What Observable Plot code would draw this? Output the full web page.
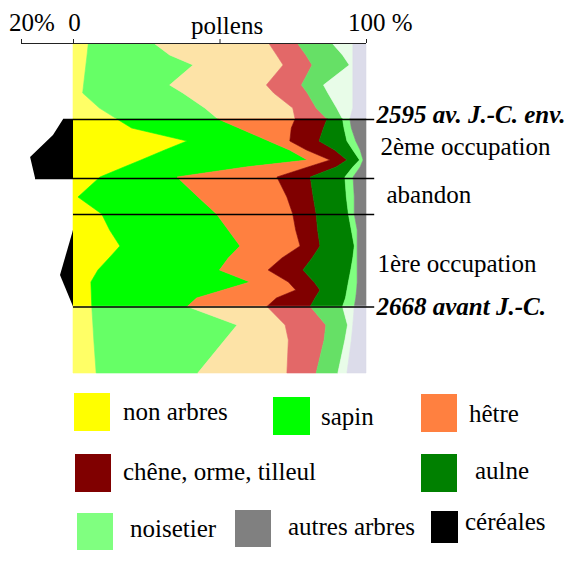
<!DOCTYPE html>
<html>
<head>
<meta charset="utf-8">
<script src="https://cdn.jsdelivr.net/npm/d3@7"></script>
<script src="https://cdn.jsdelivr.net/npm/@observablehq/plot@0.6"></script>
<style>
  body { margin: 0; background: #fff; }
  #diagramme { width: 570px; }
  #diagramme svg { display: block; }
</style>
</head>
<body>
<div id="diagramme"></div>
<script>
// Taxons dans l'ordre d'empilement (de gauche à droite)
const taxons = ["non arbres", "sapin", "hêtre", "chêne, orme, tilleul", "aulne", "noisetier", "autres arbres"];
const couleurs = ["#ffff00", "#00ff00", "#ff8040", "#800000", "#008000", "#80ff80", "#808080"];
const couleursPales = ["#ffff66", "#66ff66", "#fde3a7", "#e36868", "#66e066", "#e8fce8", "#dcdcea"];

// Niveaux supérieurs, après 2595 av. J.-C. (profondeur relative, % de pollens)
const profHaut = [0, 11, 21, 41, 49, 64, 75];
const pollensHaut = [
  [5.2, 4.8, 4.4, 3.6, 3.3, 9.0, 15],        // non arbres
  [22.8, 28.2, 36.6, 29.4, 34.2, 36, 34.5],  // sapin
  [39, 36.5, 30.7, 33, 31, 30, 26.3],        // hêtre
  [9.8, 10, 9.9, 12, 11.5, 8, 10.9],         // chêne, orme, tilleul
  [11.9, 12.5, 12.7, 7.5, 7, 7, 5.3],        // aulne
  [6.8, 3.5, 1.2, 10, 8.5, 5.5, 2.5],        // noisetier
  [4.5, 4.5, 4.5, 4.5, 4.5, 4.5, 5.5]        // autres arbres
];

// Niveaux des occupations et de l'abandon (2668 - 2595 av. J.-C.)
const profMilieu = [75, 84, 97, 106, 116, 123, 133, 153, 170, 186, 202, 214, 226, 238, 246, 254, 262.5];
const pollensMilieu = [
  [15, 20, 38.9, 31.3, 23.2, 17.4, 9.2, 1.7, 9.8, 12.5, 16, 12.3, 8.5, 6.1, 6.2, 6.3, 6.4],
  [34.5, 36.6, 27.9, 42.6, 56.8, 41.6, 26.3, 41, 39.2, 40.5, 41, 40.7, 41.5, 54.3, 45.1, 35.9, 32.6],
  [26.3, 17.9, 7.2, 5.8, 7.7, 21.2, 34.1, 30.3, 26, 23, 20.5, 18.3, 16.6, 13.1, 24.7, 27.2, 27.2],
  [10.9, 11, 10, 9.6, 5.8, 9.6, 11.4, 9, 8, 7.5, 6.8, 10.3, 11.9, 8.8, 8.3, 13.2, 14.8],
  [5.3, 7, 9.5, 6.2, 4.3, 5.7, 11.8, 11.3, 11, 11.5, 11.7, 13.9, 16.3, 11.7, 9.2, 10.4, 11],
  [2.5, 2.5, 3, 2.5, 1.2, 2.5, 2.8, 2.7, 2, 2, 1, 1.5, 2.2, 3, 3.3, 3.5, 4],
  [5.5, 5, 3.5, 2, 1, 2, 4.4, 4, 4, 3, 3, 3, 3, 3, 3.2, 3.5, 4]
];

// Niveaux inférieurs, avant 2668 av. J.-C.
const profBas = [262.5, 281, 296, 329];
const pollensBas = [
  [6.4, 6.8, 7.1, 7.9],
  [32.6, 49.2, 44.7, 34.7],
  [27.2, 16.4, 21.7, 30.4],
  [14.8, 13.9, 12.2, 10],
  [11, 7.4, 7.1, 7.4],
  [4, 1.8, 2.2, 3.1],
  [4, 4.5, 5, 6.5]
];

// Céréales (échelle propre à gauche du zéro, 0 à 20 %)
const profCereales2 = [75, 91, 113, 134];
const cereales2 = [3.8, 7.7, 16.5, 14.6];
const profCereales1 = [186, 231, 262.5];
const cereales1 = [0, 5, 0];
// 20 % de céréales occupent la largeur de 17,75 % de pollens
const echelleCereales = 17.75 / 20;

// Limites des phases
const limites = [75, 134, 170, 262.5];
const dates = ["2595 av. J.-C. env.", "2668 avant J.-C."];
const phases = ["2ème occupation", "abandon", "1ère occupation"];

// Graduations de l'axe supérieur (-20 = 20 % de céréales)
const graduations = [-20, 0, 50, 100];
const versX = v => v < 0 ? v * echelleCereales : v;

function lignes(prof, valeurs, palette) {
  return taxons.flatMap((taxon, i) =>
    prof.map((p, j) => ({taxon, profondeur: p, valeur: valeurs[i][j], couleur: palette[i]})));
}

const zones = [
  lignes(profHaut, pollensHaut, couleursPales),
  lignes(profMilieu, pollensMilieu, couleurs),
  lignes(profBas, pollensBas, couleursPales)
];

const cereales = [
  ...profCereales2.map((p, i) => ({phase: 2, profondeur: p, valeur: cereales2[i]})),
  ...profCereales1.map((p, i) => ({phase: 1, profondeur: p, valeur: cereales1[i]}))
];

function cerealesA(p) {
  return d3.max(cereales.filter(d => d.profondeur === p), d => d.valeur) ?? 0;
}

const police = "Liberation Serif, Times New Roman, serif";
const taille = 25;

const aires = zones.map(rows => Plot.areaX(rows, Plot.stackX({
  y: "profondeur",
  x: "valeur",
  z: "taxon",
  order: taxons,
  fill: "couleur",
  stroke: "couleur",
  strokeWidth: 0.6
})));

const texte = (data, opts) => Plot.text(data, {fontFamily: police, fontSize: taille, fill: "black", ...opts});

const milieux = [
  (limites[0] + limites[1]) / 2,
  (limites[1] + limites[2]) / 2,
  (limites[2] + limites[3]) / 2
];

const chart = Plot.plot({
  width: 570,
  height: 385,
  marginTop: 44,
  marginBottom: 11,
  marginLeft: 21,
  marginRight: 204,
  style: {fontFamily: police, background: "white"},
  x: {type: "linear", domain: [versX(-20), 100], range: [21, 366], axis: null},
  y: {type: "linear", domain: [0, 330], range: [44, 374], axis: null},
  color: {type: "identity"},
  marks: [
    ...aires,
    Plot.areaX(cereales, {y: "profondeur", x1: 0, x2: d => versX(-d.valeur), z: "phase", fill: "black"}),
    Plot.ruleY(limites, {y: d => d, x1: d => versX(-cerealesA(d)), x2: 102.8, stroke: "black", strokeWidth: 1.6}),
    // axe supérieur
    Plot.ruleY([0], {x1: versX(-20), x2: 100, dy: -1, stroke: "#222", strokeWidth: 1}),
    Plot.ruleX(graduations, {x: versX, y1: -4, y2: 0, dy: -1, stroke: "#222"}),
    texte([graduations[0]], {x: versX, text: () => "20%", frameAnchor: "top", lineAnchor: "bottom", textAnchor: "start", dx: -12.5, dy: -13.5}),
    texte([graduations[1]], {x: versX, text: () => "0", frameAnchor: "top", lineAnchor: "bottom", textAnchor: "middle", dx: 1, dy: -13.5}),
    texte([graduations[3]], {x: versX, text: () => "100 %", frameAnchor: "top", lineAnchor: "bottom", textAnchor: "start", dx: -18.5, dy: -13.5}),
    texte([graduations[2]], {x: versX, text: () => "pollens", frameAnchor: "top", lineAnchor: "bottom", textAnchor: "middle", dx: 7, dy: -11}),
    // dates des limites
    texte([limites[0]], {y: d => d, x: 100, text: () => dates[0], textAnchor: "start", lineAnchor: "middle", dx: 10, dy: -5, fontWeight: "bold", fontStyle: "italic"}),
    texte([limites[3]], {y: d => d, x: 100, text: () => dates[1], textAnchor: "start", lineAnchor: "middle", dx: 10, dy: 0, fontWeight: "bold", fontStyle: "italic"}),
    // phases
    texte([milieux[0]], {y: d => d, x: 100, text: () => phases[0], textAnchor: "start", lineAnchor: "bottom", dx: 14, dy: 5.5}),
    texte([milieux[1]], {y: d => d, x: 100, text: () => phases[1], textAnchor: "start", lineAnchor: "bottom", dx: 20, dy: 6}),
    texte([milieux[2]], {y: d => d, x: 100, text: () => phases[2], textAnchor: "start", lineAnchor: "bottom", dx: 11, dy: 11.5})
  ]
});

document.getElementById("diagramme").append(chart);

// Légende sous le diagramme
const entrees = [...taxons.map((t, i) => ({nom: t, couleur: couleurs[i]})), {nom: "céréales", couleur: "#000000"}];
// placement : [x carré, y carré, largeur, hauteur, x texte, ligne de base]
const placement = [
  [74, 8, 36, 38, 123, 35],
  [273, 12, 37, 38, 321, 40],
  [421, 9, 36, 38, 469, 37],
  [75, 69, 36, 38, 123, 95],
  [421, 69, 36, 38, 475, 94],
  [77, 128, 36, 37, 130, 152],
  [235, 125, 36, 37, 288, 150],
  [431, 126, 27, 32, 465, 145]
];

const legende = d3.create("svg")
  .attr("width", 570)
  .attr("height", 180)
  .style("display", "block")
  .style("background", "white");

const items = legende.selectAll("g").data(entrees).join("g");
items.append("rect")
  .attr("x", (d, i) => placement[i][0])
  .attr("y", (d, i) => placement[i][1])
  .attr("width", (d, i) => placement[i][2])
  .attr("height", (d, i) => placement[i][3])
  .attr("fill", d => d.couleur);
items.append("text")
  .attr("x", (d, i) => placement[i][4])
  .attr("y", (d, i) => placement[i][5])
  .attr("font-family", police)
  .attr("font-size", taille)
  .attr("fill", "black")
  .text(d => d.nom);

document.getElementById("diagramme").append(legende.node());
</script>
</body>
</html>
